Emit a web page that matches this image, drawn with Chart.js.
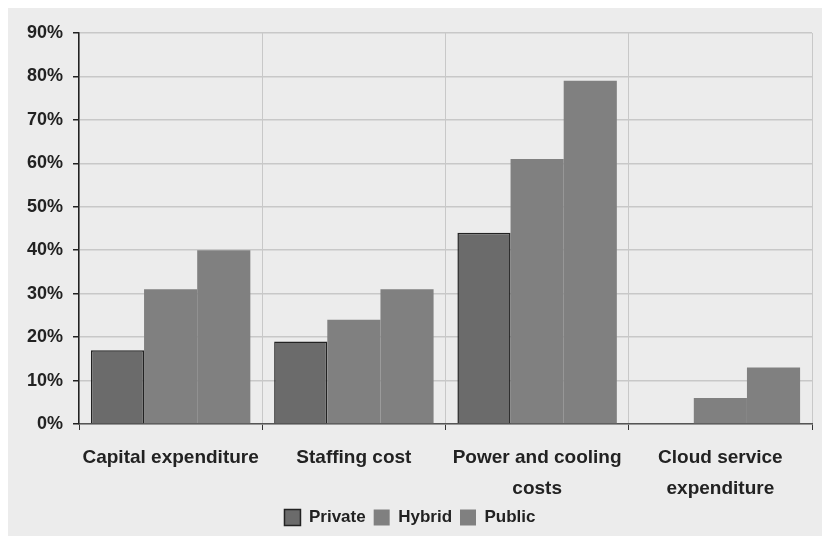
<!DOCTYPE html>
<html>
<head>
<meta charset="utf-8">
<script src="https://cdn.jsdelivr.net/npm/chart.js@4"></script>
<style>
  html, body { margin: 0; padding: 0; background: #fff; }
  #wrap { position: absolute; left: 8px; top: 8px; width: 814px; height: 528px; background: #ececec; }
</style>
</head>
<body>
<div id="wrap"><canvas id="chart"></canvas></div>
<script>
const categories = [
  "Capital expenditure",
  "Staffing cost",
  ["Power and cooling", "costs"],
  ["Cloud service", "expenditure"]
];
const privateValues = [17, 19, 44, 0];
const hybridValues = [31, 24, 61, 6];
const publicValues = [40, 31, 79, 13];
const yTicks = [0, 10, 20, 30, 40, 50, 60, 70, 80, 90];

const family = "'Liberation Sans', Arial, sans-serif";

new Chart(document.getElementById("chart").getContext("2d"), {
  type: "bar",
  data: {
    labels: categories,
    datasets: [
      {
        label: "Private",
        data: privateValues,
        backgroundColor: "#6b6b6b",
        borderColor: "#222",
        borderWidth: 1.5,
        borderSkipped: "bottom"
      },
      {
        label: "Hybrid",
        data: hybridValues,
        backgroundColor: "#808080",
        borderWidth: 0
      },
      {
        label: "Public",
        data: publicValues,
        backgroundColor: "#808080",
        borderWidth: 0
      }
    ]
  },
  options: {
    responsive: true,
    maintainAspectRatio: false,
    animation: false,
    categoryPercentage: 0.87,
    barPercentage: 1,
    layout: { padding: { top: 25, right: 10, left: 0, bottom: 0 } },
    scales: {
      x: {
        afterFit: (s) => { s.height = 77; },
        grid: {
          color: "#c8c8c8",
          tickColor: "#333",
          tickLength: 6,
          offset: true
        },
        border: { color: "#555", width: 1.5 },
        ticks: {
          color: "#222",
          font: { family: family, size: 19, weight: "bold", lineHeight: 1.63 },
          padding: 12,
          maxRotation: 0,
          autoSkip: false
        }
      },
      y: {
        min: 0,
        max: 90,
        afterFit: (s) => { s.width = 71; },
        afterBuildTicks: (s) => { s.ticks = yTicks.map(v => ({ value: v })); },
        grid: {
          color: "#c8c8c8",
          tickColor: "#222",
          tickLength: 6,
          lineWidth: 1.5
        },
        border: { color: "#222", width: 1.5 },
        ticks: {
          color: "#222",
          font: { family: family, size: 18, weight: "bold" },
          padding: 10,
          callback: (v) => v + "%"
        }
      }
    },
    plugins: {
      legend: {
        position: "bottom",
        labels: {
          color: "#222",
          font: { family: family, size: 17, weight: "bold" },
          boxWidth: 16,
          boxHeight: 16,
          padding: 8
        }
      },
      tooltip: { enabled: false }
    }
  }
});
</script>
</body>
</html>
